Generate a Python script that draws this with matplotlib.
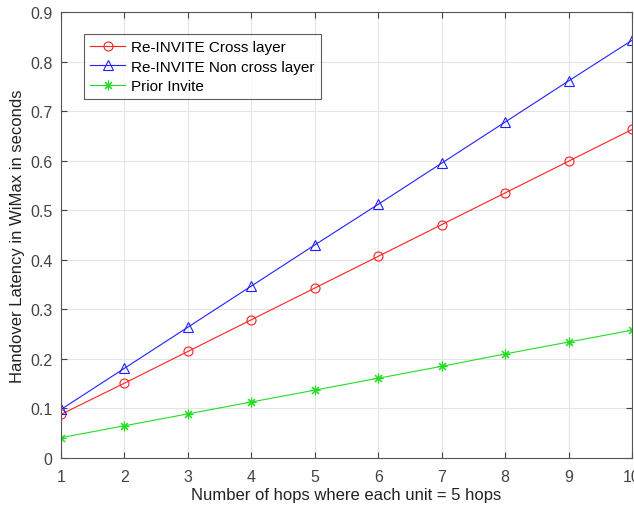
import matplotlib
matplotlib.use("Agg")
import matplotlib.pyplot as plt

hops = [1, 2, 3, 4, 5, 6, 7, 8, 9, 10]
cross_layer = [0.088, 0.151, 0.215, 0.279, 0.343, 0.407, 0.471, 0.535, 0.599, 0.663]
non_cross_layer = [0.098, 0.181, 0.264, 0.347, 0.430, 0.512, 0.595, 0.678, 0.761, 0.843]
prior_invite = [0.041, 0.065, 0.089, 0.113, 0.137, 0.161, 0.185, 0.210, 0.234, 0.258]

plt.rcParams['font.family'] = ['Liberation Sans', 'DejaVu Sans']

fig = plt.figure(figsize=(6.34, 5.1), dpi=100)
ax = fig.add_axes([0.0962, 0.1, 0.9008, 0.8745])

ax.plot(hops, cross_layer, color='#ff2020', marker='o', markersize=6.5, markerfacecolor='none',
        markeredgewidth=0.8, linewidth=0.8, label='Re-INVITE Cross layer')
ax.plot(hops, non_cross_layer, color='#2020ff', marker='^', markersize=6.5, markerfacecolor='none',
        markeredgewidth=0.8, linewidth=0.8, label='Re-INVITE Non cross layer')
ax.plot(hops, prior_invite, color='#22dd22', marker=(8, 2, 0), markersize=7,
        markeredgewidth=0.8, linewidth=0.8, label='Prior Invite')

ax.set_xlim(1, 10)
ax.set_ylim(0, 0.9)
ax.set_xticks(hops)
ax.set_yticks([0, 0.1, 0.2, 0.3, 0.4, 0.5, 0.6, 0.7, 0.8, 0.9])
ax.set_yticklabels(['0', '0.1', '0.2', '0.3', '0.4', '0.5', '0.6', '0.7', '0.8', '0.9'])
ax.grid(True, color='#e4e4e4', linewidth=0.8)
ax.set_axisbelow(True)
ax.tick_params(direction='in', labelsize=11.5, colors='#444444', length=4, top=True, right=True)
ax.tick_params(axis='x', pad=8)
ax.tick_params(axis='y', pad=6)
for s in ax.spines.values():
    s.set_color('#555555')
    s.set_linewidth(0.8)

ax.set_xlabel('Number of hops where each unit = 5 hops', fontsize=12, color='#222222', labelpad=2)
ax.set_ylabel('Handover Latency in WiMax in seconds', fontsize=12, color='#222222', labelpad=4)

leg = ax.legend(loc='upper left', bbox_to_anchor=(0.027, 0.967), fontsize=11, frameon=True,
                fancybox=False, edgecolor='#333333', borderpad=0.4, labelspacing=0.35,
                handlelength=2.3, handletextpad=0.4)
leg.get_frame().set_linewidth(0.8)

fig.savefig('out.png', dpi=100)
